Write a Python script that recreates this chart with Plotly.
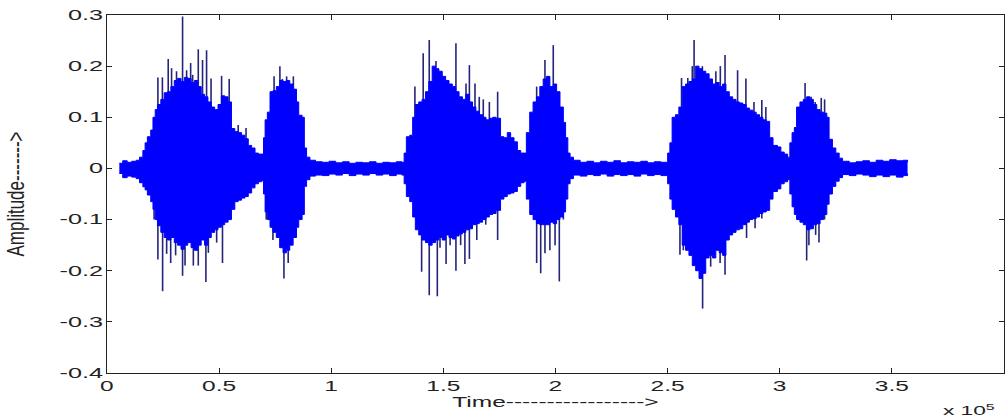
import plotly.graph_objects as go

# ---- envelope of the waveform (sample index, upper amplitude, lower amplitude) ----
env_t = [5500, 7000, 9000, 11000, 13000, 14500, 16000, 17000, 18000, 19500, 20500, 21500, 22500,
         24000, 25500, 27000, 28500, 30000, 31500, 33000, 34500, 36000, 37500, 39000, 40500, 42000,
         43500, 45000, 46500, 48000, 49500, 51000, 52500, 54000, 55500, 57000, 58500, 60000, 61500,
         63000, 64500, 66000, 67500, 69000,
         69800, 70500, 71500, 72700, 74000, 75500, 77000, 78500, 80000, 81500, 83000, 84500, 85500,
         87000, 88000, 89000,
         90500, 93000, 96000, 99000, 102000, 105000, 108000, 111000, 114000, 117000, 120000, 123000,
         126000, 129000, 131500,
         132500, 133500, 135000, 136300, 137500, 139000, 140500, 142000, 143500, 145000, 146500,
         148000, 149500, 151000, 152500, 154000, 155500, 157000, 158500, 160000, 161500, 163000,
         164500, 166000, 167500, 169000, 170500, 172000, 173500, 175500, 177000, 178500, 180000,
         181500, 183000, 184500, 186000,
         187000, 188500, 190000, 191500, 193000, 194500, 196000, 197500, 199000, 200500, 202000,
         203500, 204500, 205500, 206500,
         208000, 211000, 214000, 217000, 220000, 223000, 226000, 229000, 232000, 235000, 238000,
         241000, 244000, 247000,
         250000, 251000, 252000, 253500, 255000, 256500, 258000, 259500, 261000, 262500, 264000,
         265500, 267000, 268500, 270000, 271500, 273000, 274500, 276000, 277500, 279000, 280500,
         282000, 283500, 285000, 286500, 288000, 289500, 291000, 292500, 294000, 295500, 297000,
         299000, 300500, 302000, 303500,
         304500, 305500, 306500, 307500, 309000, 310500, 312000, 313500, 315000, 316500, 318000,
         319500, 321000, 322000, 323500, 325000, 326500,
         328000, 331000, 334000, 337000, 340000, 343000, 346000, 349000, 352000, 355000, 357000]

env_top = [0.010, 0.015, 0.012, 0.014, 0.016, 0.022, 0.035, 0.050, 0.062, 0.075, 0.100, 0.115, 0.125,
           0.135, 0.148, 0.150, 0.160, 0.172, 0.176, 0.170, 0.178, 0.176, 0.168, 0.172, 0.160, 0.145,
           0.140, 0.130, 0.120, 0.115, 0.125, 0.142, 0.140, 0.130, 0.078, 0.072, 0.070, 0.065, 0.058,
           0.045, 0.040, 0.030, 0.028, 0.028,
           0.060, 0.095, 0.110, 0.150, 0.152, 0.160, 0.172, 0.170, 0.172, 0.165, 0.155, 0.130, 0.104,
           0.100, 0.040, 0.022,
           0.016, 0.013, 0.012, 0.014, 0.011, 0.013, 0.010, 0.012, 0.011, 0.013, 0.010, 0.012,
           0.011, 0.013, 0.012,
           0.030, 0.062, 0.065, 0.100, 0.125, 0.130, 0.135, 0.150, 0.170, 0.200, 0.195,
           0.190, 0.180, 0.172, 0.165, 0.160, 0.150, 0.140, 0.135, 0.145, 0.130, 0.120,
           0.112, 0.105, 0.100, 0.095, 0.098, 0.100, 0.098, 0.062, 0.060, 0.070, 0.060,
           0.052, 0.035, 0.030, 0.030,
           0.070, 0.110, 0.130, 0.140, 0.160, 0.175, 0.180, 0.160, 0.165, 0.150, 0.120,
           0.090, 0.060, 0.030, 0.022,
           0.016, 0.012, 0.014, 0.011, 0.014, 0.012, 0.015, 0.011, 0.013, 0.012, 0.014,
           0.011, 0.013, 0.012,
           0.030, 0.050, 0.100, 0.105, 0.120, 0.160, 0.165, 0.170, 0.175, 0.200, 0.195,
           0.190, 0.185, 0.175, 0.165, 0.168, 0.160, 0.165, 0.150, 0.140, 0.135, 0.130,
           0.128, 0.125, 0.118, 0.114, 0.110, 0.105, 0.100, 0.095, 0.092, 0.060, 0.045,
           0.042, 0.032, 0.028, 0.022,
           0.050, 0.070, 0.080, 0.120, 0.130, 0.135, 0.140, 0.135, 0.125, 0.115, 0.110,
           0.108, 0.100, 0.057, 0.040, 0.030, 0.020,
           0.014, 0.011, 0.013, 0.015, 0.012, 0.016, 0.014, 0.017, 0.015, 0.016, 0.012]

env_bot = [-0.010, -0.018, -0.015, -0.017, -0.020, -0.028, -0.036, -0.042, -0.052, -0.065, -0.080,
           -0.100, -0.112, -0.125, -0.135, -0.140, -0.135, -0.145, -0.150, -0.158, -0.150, -0.145,
           -0.155, -0.160, -0.150, -0.140, -0.150, -0.135, -0.125, -0.120, -0.115, -0.110, -0.105,
           -0.100, -0.080, -0.065, -0.062, -0.058, -0.055, -0.048, -0.038, -0.030, -0.026, -0.024,
           -0.050, -0.085, -0.100, -0.115, -0.125, -0.135, -0.155, -0.165, -0.160, -0.150, -0.135,
           -0.115, -0.100, -0.090, -0.035, -0.022,
           -0.015, -0.013, -0.014, -0.011, -0.013, -0.010, -0.014, -0.011, -0.013, -0.010, -0.013,
           -0.011, -0.014, -0.011, -0.013,
           -0.030, -0.055, -0.065, -0.095, -0.120, -0.130, -0.140, -0.145, -0.150, -0.145, -0.140,
           -0.135, -0.140, -0.130, -0.135, -0.138, -0.132, -0.128, -0.125, -0.120, -0.118, -0.110,
           -0.108, -0.105, -0.100, -0.095, -0.090, -0.088, -0.082, -0.060, -0.055, -0.050, -0.048,
           -0.045, -0.035, -0.028, -0.025,
           -0.060, -0.090, -0.100, -0.108, -0.110, -0.110, -0.110, -0.105, -0.108, -0.100, -0.095,
           -0.085, -0.060, -0.030, -0.020,
           -0.013, -0.015, -0.012, -0.014, -0.011, -0.015, -0.012, -0.014, -0.012, -0.015, -0.011,
           -0.014, -0.012, -0.014,
           -0.030, -0.060, -0.080, -0.095, -0.110, -0.150, -0.160, -0.170, -0.190, -0.200, -0.215,
           -0.205, -0.175, -0.170, -0.175, -0.160, -0.165, -0.170, -0.140, -0.130, -0.125, -0.120,
           -0.118, -0.110, -0.105, -0.100, -0.098, -0.095, -0.088, -0.085, -0.082, -0.060, -0.045,
           -0.040, -0.030, -0.026, -0.022,
           -0.050, -0.075, -0.090, -0.100, -0.105, -0.110, -0.120, -0.118, -0.110, -0.108, -0.100,
           -0.090, -0.070, -0.050, -0.035, -0.025, -0.018,
           -0.012, -0.014, -0.011, -0.013, -0.016, -0.013, -0.016, -0.013, -0.017, -0.014, -0.010]

# ---- isolated peaks sticking out of the envelope ----
peak_up_t = [22700, 24700, 27300, 28800, 31000, 33700, 35500, 37300, 38200, 40700, 42600, 44400,
             46400, 51100, 54500, 58500, 62000,
             74500, 77100, 78200, 80100, 83100,
             137300, 141000, 143700, 146700, 155600, 160100, 161600, 164100, 166000, 167800,
             170500, 174200,
             191600, 195300, 199000,
             256200, 259000, 261000, 261800, 265500, 271500, 273500, 275600, 281200, 284900,
             288500, 292000, 293800,
             311300, 314000, 315800, 318500, 320000]
peak_up_v = [0.178, 0.178, 0.214, 0.196, 0.190, 0.297, 0.192, 0.206, 0.183, 0.233, 0.212, 0.231,
             0.176, 0.181, 0.175, 0.085, 0.079,
             0.180, 0.200, 0.175, 0.180, 0.180,
             0.160, 0.225, 0.251, 0.210, 0.245, 0.166, 0.202, 0.166, 0.140, 0.135,
             0.130, 0.150,
             0.160, 0.212, 0.241,
             0.177, 0.177, 0.200, 0.251, 0.200, 0.190, 0.200, 0.222, 0.192, 0.176,
             0.130, 0.134, 0.120,
             0.167, 0.140, 0.130, 0.138, 0.135]

peak_dn_t = [21000, 22700, 24800, 26600, 28400, 30600, 33700, 34800, 38500, 40700, 44100, 45200,
             48900, 51500,
             71000, 74000, 78900, 80800,
             140300, 143700, 147300, 148500, 151200, 153000, 155600, 157700, 159600, 161600,
             164900, 168900, 174200,
             191600, 193400, 195300, 197500, 199800, 201700, 203500,
             255500, 257000, 265600, 269200, 273400, 275600, 278500, 285200, 289000, 292000,
             312000, 313000, 316000, 317500, 320000]
peak_dn_v = [-0.100, -0.178, -0.240, -0.167, -0.185, -0.170, -0.210, -0.190, -0.190, -0.190,
             -0.222, -0.165, -0.145, -0.185,
             -0.100, -0.140, -0.215, -0.185,
             -0.202, -0.248, -0.250, -0.155, -0.187, -0.150, -0.200, -0.150, -0.187, -0.177,
             -0.140, -0.110, -0.140,
             -0.185, -0.205, -0.166, -0.160, -0.150, -0.221, -0.100,
             -0.169, -0.160, -0.274, -0.192, -0.185, -0.208, -0.130, -0.136, -0.117, -0.098,
             -0.180, -0.150, -0.130, -0.145, -0.100]

x_tick_vals = [0, 50000, 100000, 150000, 200000, 250000, 300000, 350000, 400000]
x_tick_text = ["0", "0.5", "1", "1.5", "2", "2.5", "3", "3.5", "4"]
y_tick_vals = [0.3, 0.2, 0.1, 0, -0.1, -0.2, -0.3, -0.4]
y_tick_text = ["0.3", "0.2", "0.1", "0", "-0.1", "-0.2", "-0.3", "-0.4"]

BLUE = "#0000ff"
SPIKE = "#24247a"
FONT = "Liberation Sans, Arial, sans-serif"

# spike segments
sx, sy = [], []
for t, v in zip(peak_up_t, peak_up_v):
    sx += [t, t, None]
    sy += [0, v, None]
for t, v in zip(peak_dn_t, peak_dn_v):
    sx += [t, t, None]
    sy += [0, v, None]

fig = go.Figure()
fig.add_trace(go.Scatter(x=sx, y=sy, mode="lines", line=dict(color=SPIKE, width=1.6),
                         hoverinfo="skip", showlegend=False))
fig.add_trace(go.Scatter(x=env_t, y=env_bot, mode="lines", line=dict(color=BLUE, width=1, shape="hv"),
                         showlegend=False))
fig.add_trace(go.Scatter(x=env_t, y=env_top, mode="lines", line=dict(color=BLUE, width=1, shape="hv"),
                         fill="tonexty", fillcolor=BLUE, showlegend=False))

axis_common = dict(showgrid=False, zeroline=False, showline=True, linecolor="#222222", linewidth=1,
                   mirror="ticks", ticks="inside", ticklen=5, tickcolor="#222222", tickwidth=1,
                   automargin=False,
                   tickfont=dict(family=FONT, size=14, color="#222222"))

fig.update_layout(
    width=1006, height=419,
    margin=dict(l=107, r=2, t=15, b=46, autoexpand=False),
    paper_bgcolor="white", plot_bgcolor="white",
    xaxis=dict(range=[0, 400000], tickmode="array", tickvals=x_tick_vals, ticktext=x_tick_text,
               title=dict(text="Time----------------->", standoff=0,
                          font=dict(family=FONT, size=14, color="#222222")),
               **axis_common),
    yaxis=dict(range=[-0.4, 0.3], tickmode="array", tickvals=y_tick_vals, ticktext=y_tick_text,
               title=dict(text="Amplitude------->", standoff=52,
                          font=dict(family=FONT, size=17, color="#222222")),
               **axis_common),
    annotations=[dict(text="x 10<sup>5</sup>", xref="paper", yref="paper", x=0.961, y=-0.103,
                      xanchor="center", yanchor="middle", showarrow=False,
                      font=dict(family=FONT, size=13, color="#222222"))],
)

# the source figure was stretched horizontally; widen the glyphs to match
post = """
var gd = document.getElementById('{plot_id}');
document.body.style.margin = '0';
document.body.style.overflow = 'hidden';
function st(el, sx, sy, mode) {
  var b = el.getBBox();
  var cx = (mode === 'right') ? b.x + b.width : b.x + b.width / 2;
  var cy = b.y + b.height / 2;
  var t = el.getAttribute('transform') || '';
  el.setAttribute('transform', t + ' translate(' + cx + ',' + cy + ') scale(' + sx + ',' + sy +
                  ') translate(' + (-cx) + ',' + (-cy) + ')');
}
gd.querySelectorAll('.xtick text').forEach(function(e) { st(e, 1.75, 1, 'center'); });
gd.querySelectorAll('.ytick text').forEach(function(e) { st(e, 1.8, 1, 'right'); });
gd.querySelectorAll('.g-xtitle text').forEach(function(e) { st(e, 1.75, 1, 'center'); });
gd.querySelectorAll('.g-ytitle text').forEach(function(e) { st(e, 1, 1.45, 'center'); });
gd.querySelectorAll('.annotation-text').forEach(function(e) { st(e, 1.75, 1, 'center'); });
"""

fig.write_html("out.html", config={"displayModeBar": False}, post_script=post)
